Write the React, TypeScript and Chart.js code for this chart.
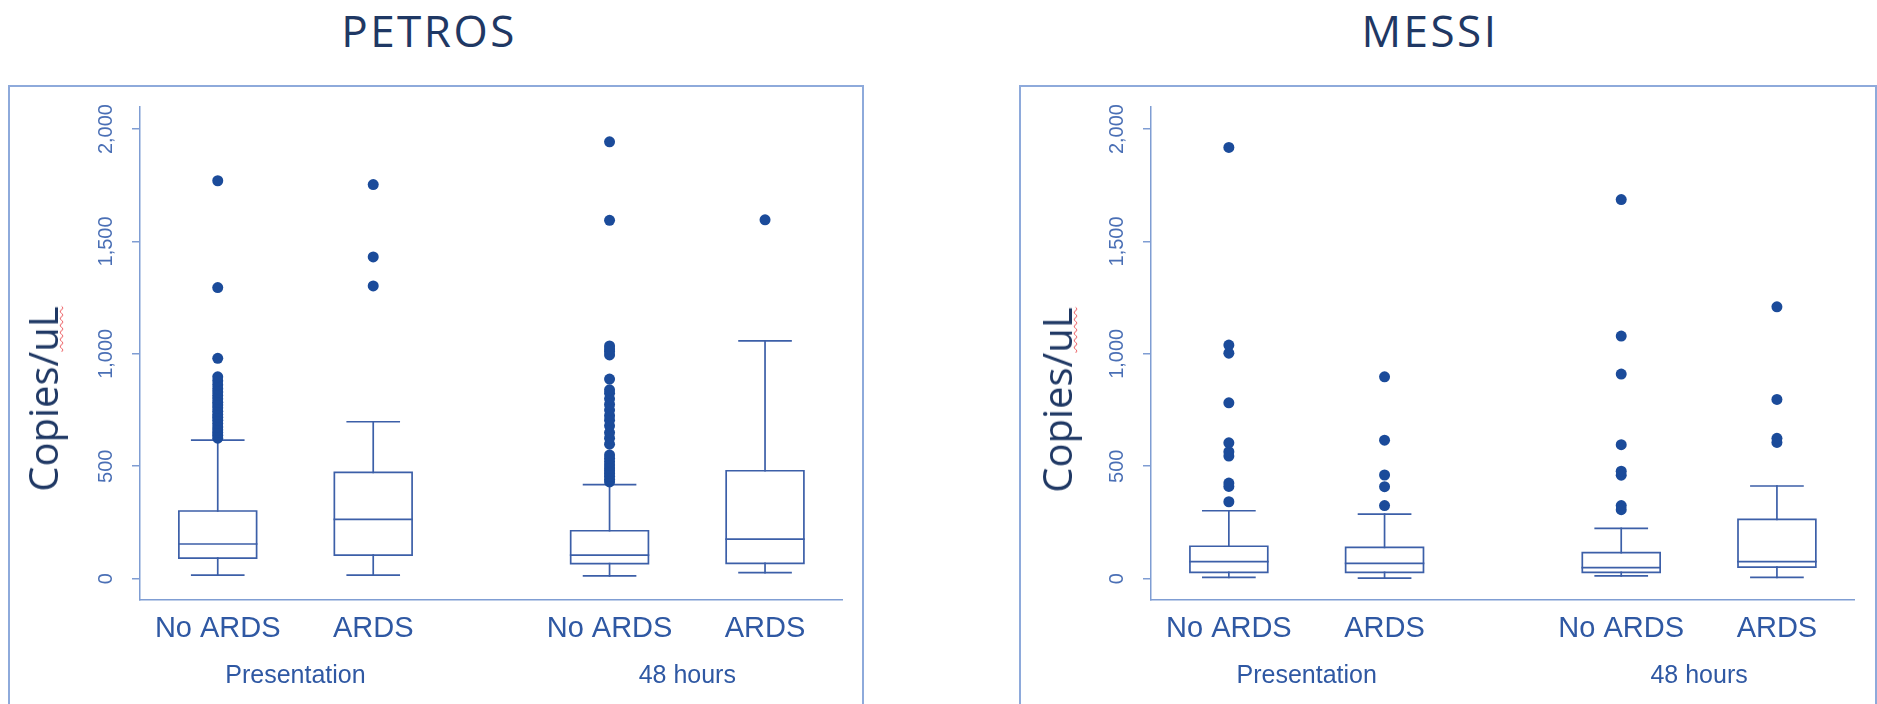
import React, { useEffect, useRef } from "react";
import { Chart, registerables } from "chart.js";

Chart.register(...registerables);

// ---------- data ----------
const xPositions = [1, 2, 3.52, 4.52];
const categories = ["No ARDS", "ARDS", "No ARDS", "ARDS"];
const groupPositions = [1.5, 4.02];
const groupLabels = ["Presentation", "48 hours"];
const yTicks = [0, 500, 1000, 1500, 2000];

// PETROS
const petrosLow = [16, 16, 12, 27];
const petrosQ1 = [91, 105, 67, 68];
const petrosMedian = [154, 264, 105, 176];
const petrosQ3 = [301, 473, 213, 480];
const petrosHigh = [616, 698, 418, 1058];
const petrosOutliersPresNoArds = [625, 638, 650, 662, 675, 690, 705, 718, 730, 745, 760, 772, 785, 800, 815, 830, 845, 862, 880, 898, 980, 1295, 1770];
const petrosOutliersPresArds = [1302, 1431, 1753];
const petrosOutliers48NoArds = [430, 442, 455, 468, 480, 492, 505, 520, 535, 550, 598, 625, 650, 680, 705, 725, 750, 775, 800, 825, 840, 888, 995, 1010, 1022, 1035, 1594, 1943];
const petrosOutliers48Ards = [1596];

// MESSI
const messiLow = [6, 2, 12, 6];
const messiQ1 = [28, 28, 28, 51];
const messiMedian = [76, 68, 49, 76];
const messiQ3 = [144, 139, 116, 264];
const messiHigh = [302, 287, 224, 412];
const messiOutliersPresNoArds = [342, 410, 425, 545, 565, 604, 782, 1003, 1039, 1918];
const messiOutliersPresArds = [325, 409, 461, 616, 898];
const messiOutliers48NoArds = [307, 325, 460, 478, 596, 910, 1079, 1686];
const messiOutliers48Ards = [606, 624, 797, 1209];

// ---------- styles ----------
const X_MIN = 0.5;
const X_MAX = 5.015;
const Y_MIN = -95;
const Y_MAX = 2098;
const BOX_HALF = 0.25;
const CAP_HALF = 0.167;
const LINE_COLOR = "#3c5fa8";
const DOT_COLOR = "#1b4b9a";
const AXIS_COLOR = "#7f9dd3";
const TICK_COLOR = "#4a6fb5";
const CAT_COLOR = "#2f58a3";
const TITLE_COLOR = "#1f3864";
const FRAME_COLOR = "#8eaadb";
const SANS = "'Liberation Sans', Arial, sans-serif";

type Stats = {
  lo: number[];
  q1: number[];
  med: number[];
  q3: number[];
  hi: number[];
  out: number[][];
};

const petrosStats: Stats = {
  lo: petrosLow,
  q1: petrosQ1,
  med: petrosMedian,
  q3: petrosQ3,
  hi: petrosHigh,
  out: [petrosOutliersPresNoArds, petrosOutliersPresArds, petrosOutliers48NoArds, petrosOutliers48Ards],
};

const messiStats: Stats = {
  lo: messiLow,
  q1: messiQ1,
  med: messiMedian,
  q3: messiQ3,
  hi: messiHigh,
  out: [messiOutliersPresNoArds, messiOutliersPresArds, messiOutliers48NoArds, messiOutliers48Ards],
};

function labelFor(v: number, positions: number[], labels: string[]) {
  const i = positions.findIndex((p) => Math.abs(p - v) < 1e-6);
  return i >= 0 ? labels[i] : "";
}

function buildDatasets(s: Stats) {
  const gap = (x: number) => ({ x, y: null as any });
  const boxes: any[] = [];
  const medians: any[] = [];
  const whiskers: any[] = [];
  const caps: any[] = [];
  const dots: any[] = [];
  xPositions.forEach((p, i) => {
    boxes.push(
      { x: p - BOX_HALF, y: s.q1[i] },
      { x: p + BOX_HALF, y: s.q1[i] },
      { x: p + BOX_HALF, y: s.q3[i] },
      { x: p - BOX_HALF, y: s.q3[i] },
      { x: p - BOX_HALF, y: s.q1[i] },
      gap(p)
    );
    medians.push({ x: p - BOX_HALF, y: s.med[i] }, { x: p + BOX_HALF, y: s.med[i] }, gap(p));
    whiskers.push(
      { x: p, y: s.q3[i] },
      { x: p, y: s.hi[i] },
      gap(p),
      { x: p, y: s.q1[i] },
      { x: p, y: s.lo[i] },
      gap(p)
    );
    caps.push(
      { x: p - CAP_HALF, y: s.hi[i] },
      { x: p + CAP_HALF, y: s.hi[i] },
      gap(p),
      { x: p - CAP_HALF, y: s.lo[i] },
      { x: p + CAP_HALF, y: s.lo[i] },
      gap(p)
    );
    s.out[i].forEach((v) => dots.push({ x: p, y: v }));
  });
  const lineDs = (label: string, data: any[]) => ({
    label,
    data,
    xAxisID: "x",
    yAxisID: "y",
    showLine: true,
    spanGaps: false,
    pointRadius: 0,
    pointHoverRadius: 0,
    borderColor: LINE_COLOR,
    borderWidth: 1.7,
    borderCapStyle: "square" as const,
    borderJoinStyle: "miter" as const,
    fill: false,
    tension: 0,
  });
  return [
    {
      label: "Outliers",
      data: dots,
      xAxisID: "x",
      yAxisID: "y",
      showLine: false,
      pointRadius: 5.5,
      pointHoverRadius: 5.5,
      pointBackgroundColor: DOT_COLOR,
      pointBorderWidth: 0,
      backgroundColor: DOT_COLOR,
    },
    lineDs("Median", medians),
    lineDs("Box", boxes),
    lineDs("Whiskers", whiskers),
    lineDs("Caps", caps),
  ];
}

type PanelProps = {
  title: string;
  titleX: number;
  frameLeft: number;
  frameWidth: number;
  canvasLeft: number;
  canvasWidth: number;
  yTitleX: number;
  yTitleY: number;
  stats: Stats;
};

const CANVAS_TOP = 87;
const CANVAS_HEIGHT = 617;
const Y_AXIS_WIDTH = 130;
const RIGHT_PAD = 19;
const TOP_PAD = 20;

function Panel(props: PanelProps) {
  const ref = useRef<HTMLCanvasElement | null>(null);
  useEffect(() => {
    if (!ref.current) return;
    const chart = new Chart(ref.current, {
      type: "scatter",
      data: { datasets: buildDatasets(props.stats) as any },
      options: {
        animation: false,
        responsive: false,
        maintainAspectRatio: false,
        events: [],
        layout: { padding: { left: 0, right: RIGHT_PAD, top: TOP_PAD, bottom: 0 } },
        plugins: {
          legend: { display: false },
          tooltip: { enabled: false },
          title: { display: false },
        },
        scales: {
          x: {
            type: "linear",
            position: "bottom",
            min: X_MIN,
            max: X_MAX,
            weight: 0,
            grid: { display: false, drawTicks: false },
            border: { display: true, color: AXIS_COLOR, width: 1.5 },
            afterBuildTicks: (scale: any) => {
              scale.ticks = xPositions.map((v) => ({ value: v }));
            },
            afterFit: (scale: any) => {
              scale.height = 50;
            },
            ticks: {
              autoSkip: false,
              maxRotation: 0,
              minRotation: 0,
              padding: 12,
              color: CAT_COLOR,
              font: { family: SANS, size: 29 },
              callback: (v: any) => labelFor(Number(v), xPositions, categories),
            },
          },
          xg: {
            type: "linear",
            position: "bottom",
            min: X_MIN,
            max: X_MAX,
            weight: 1,
            grid: { display: false, drawTicks: false },
            border: { display: false },
            afterBuildTicks: (scale: any) => {
              scale.ticks = groupPositions.map((v) => ({ value: v }));
            },
            afterFit: (scale: any) => {
              scale.height = 54;
            },
            ticks: {
              autoSkip: false,
              maxRotation: 0,
              minRotation: 0,
              padding: 11,
              color: CAT_COLOR,
              font: { family: SANS, size: 25 },
              callback: (v: any) => labelFor(Number(v), groupPositions, groupLabels),
            },
          },
          y: {
            type: "linear",
            position: "left",
            min: Y_MIN,
            max: Y_MAX,
            grid: {
              display: true,
              drawOnChartArea: false,
              drawTicks: true,
              tickLength: 8,
              color: AXIS_COLOR,
              lineWidth: 1.5,
            },
            border: { display: true, color: AXIS_COLOR, width: 1.5 },
            afterBuildTicks: (scale: any) => {
              scale.ticks = yTicks.map((v) => ({ value: v }));
            },
            afterFit: (scale: any) => {
              scale.width = Y_AXIS_WIDTH;
            },
            ticks: {
              autoSkip: false,
              minRotation: 90,
              maxRotation: 90,
              crossAlign: "center",
              padding: 0,
              color: TICK_COLOR,
              font: { family: SANS, size: 20 },
              callback: (v: any) => Number(v).toLocaleString("en-US"),
            },
          },
        } as any,
      },
    });
    return () => chart.destroy();
  }, []);

  return (
    <>
      <div
        style={{
          position: "absolute",
          left: props.titleX - 300,
          top: 8,
          width: 600,
          textAlign: "center",
          fontFamily: "'Open Sans', 'Noto Sans', sans-serif",
          fontWeight: 400,
          fontSize: 44,
          lineHeight: "44px",
          letterSpacing: "2.5px",
          color: TITLE_COLOR,
          whiteSpace: "nowrap",
        }}
      >
        {props.title}
      </div>
      <div
        style={{
          position: "absolute",
          left: props.frameLeft,
          top: 85,
          width: props.frameWidth,
          height: 660,
          boxSizing: "border-box",
          border: `2px solid ${FRAME_COLOR}`,
        }}
      />
      <canvas
        ref={ref}
        width={props.canvasWidth}
        height={CANVAS_HEIGHT}
        style={{
          position: "absolute",
          left: props.canvasLeft,
          top: CANVAS_TOP,
          width: props.canvasWidth,
          height: CANVAS_HEIGHT,
        }}
      />
      <div
        style={{
          position: "absolute",
          left: props.yTitleX - 6,
          top: props.yTitleY,
          transform: "translate(-50%, -50%) rotate(-90deg)",
          fontFamily: "'Open Sans', 'Noto Sans', sans-serif",
          fontSize: 40,
          lineHeight: "40px",
          color: TITLE_COLOR,
          whiteSpace: "nowrap",
        }}
      >
        Copies/
        <span
          style={{
            textDecorationLine: "underline",
            textDecorationStyle: "wavy",
            textDecorationColor: "#e8474c",
            textDecorationThickness: "1px",
          }}
        >
          uL
        </span>
      </div>
    </>
  );
}

export default function App() {
  return (
    <div
      style={{
        position: "absolute",
        left: 0,
        top: 0,
        width: 1877,
        height: 704,
        overflow: "hidden",
        background: "#ffffff",
      }}
    >
      <Panel
        title="PETROS"
        titleX={429}
        frameLeft={8}
        frameWidth={856}
        canvasLeft={10}
        canvasWidth={851}
        yTitleX={48.5}
        yTitleY={399}
        stats={petrosStats}
      />
      <Panel
        title="MESSI"
        titleX={1430}
        frameLeft={1019}
        frameWidth={858}
        canvasLeft={1021}
        canvasWidth={852}
        yTitleX={1063}
        yTitleY={400}
        stats={messiStats}
      />
    </div>
  );
}
